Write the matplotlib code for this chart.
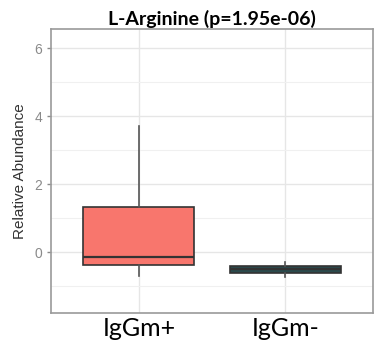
import matplotlib
matplotlib.use("Agg")
import matplotlib.pyplot as plt

groups = ["IgGm+", "IgGm-"]
fills = ["#F8766D", "#2B4A4C"]
q1 = [-0.38, -0.62]
med = [-0.15, -0.50]
q3 = [1.32, -0.40]
whislo = [-0.71, -0.72]
whishi = [3.70, -0.30]

stats = []
for i, g in enumerate(groups):
    stats.append({"label": g, "q1": q1[i], "med": med[i], "q3": q3[i],
                  "whislo": whislo[i], "whishi": whishi[i], "fliers": []})

fig = plt.figure(figsize=(3.85, 3.47), dpi=100)
ax = fig.add_axes([0.1325, 0.098, 0.8365, 0.818])

bp = ax.bxp(stats, positions=[1, 2], widths=0.76, patch_artist=True,
            showcaps=False, zorder=3,
            boxprops=dict(edgecolor="#333333", linewidth=1.2),
            medianprops=dict(color="#333333", linewidth=1.6),
            whiskerprops=dict(color="#555555", linewidth=1.2))
for patch, c in zip(bp["boxes"], fills):
    patch.set_facecolor(c)

ax.set_xlim(0.4, 2.6)
ax.set_ylim(-1.79, 6.56)
ax.set_yticks([0, 2, 4, 6])
ax.set_yticks([-1, 1, 3, 5], minor=True)
ax.grid(True, which="major", color="#e6e6e6", linewidth=1.0, zorder=0)
ax.grid(True, which="minor", axis="y", color="#f0f0f0", linewidth=0.8, zorder=0)
ax.set_axisbelow(True)
for s in ax.spines.values():
    s.set_color("#9a9a9a")
    s.set_linewidth(1.2)

ax.tick_params(axis="y", which="major", colors="#8a8a8a", labelsize=10,
               length=3, width=1)
ax.tick_params(axis="y", which="minor", length=0)
ax.tick_params(axis="x", length=0, pad=3)
ax.set_xticks([1, 2])
ax.set_xticklabels(groups, fontsize=18, family="Lato", color="black")
for lab in ax.get_yticklabels():
    lab.set_family("Liberation Sans")

ax.set_ylabel("Relative Abundance", fontsize=11, color="#333333",
              family="Liberation Sans", labelpad=5)
ax.set_title("L-Arginine (p=1.95e-06)", fontsize=14, fontweight="bold",
             family="Lato", pad=3)

fig.savefig("out.png", dpi=100)
